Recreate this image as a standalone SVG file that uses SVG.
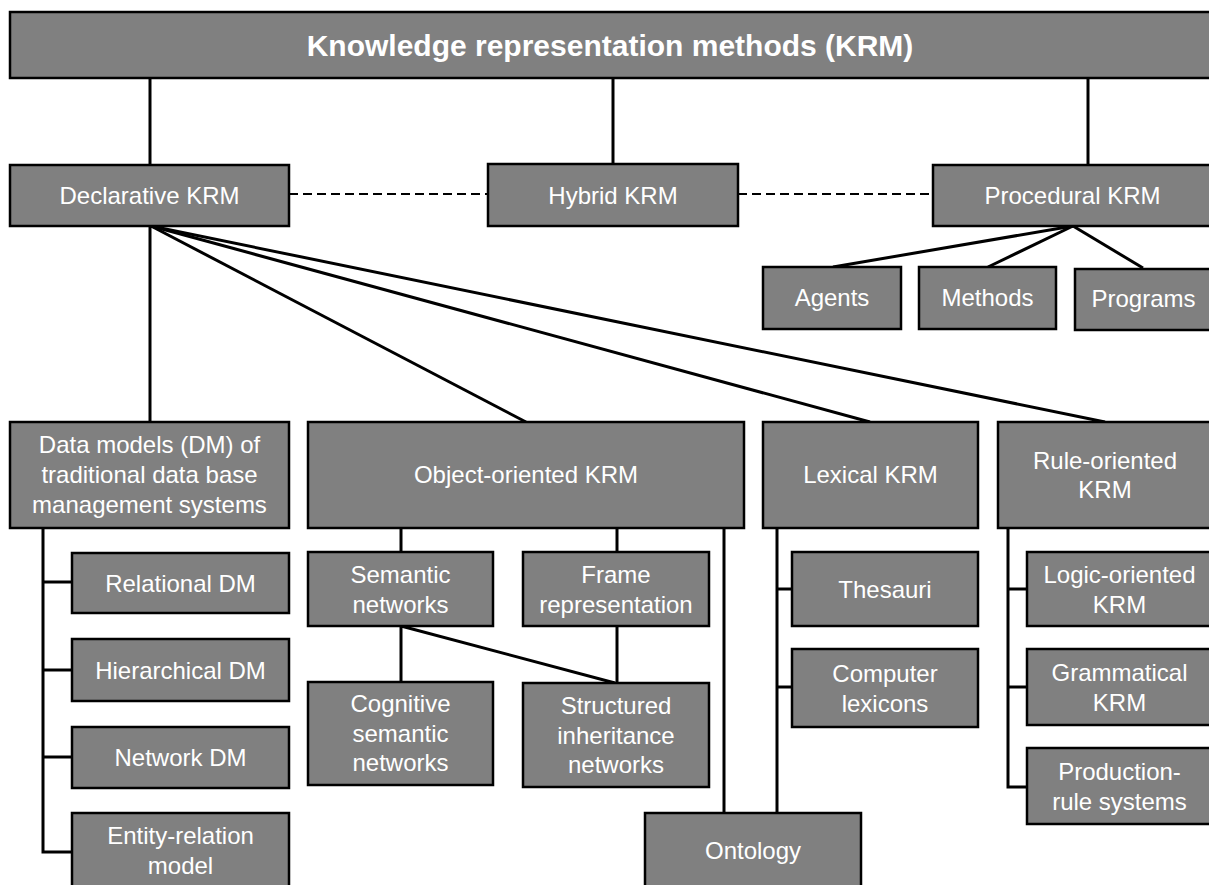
<svg xmlns="http://www.w3.org/2000/svg" width="1209" height="885" viewBox="0 0 1209 885">
  <style>
    .box { fill: #808080; stroke: #000; stroke-width: 2.5; }
    .lbl { font-family: "Liberation Sans", Arial, sans-serif; font-size: 24px; fill: #fff; text-anchor: middle; }
    .title { font-family: "Liberation Sans", Arial, sans-serif; font-size: 30px; font-weight: bold; fill: #fff; text-anchor: middle; }
    .link { stroke: #000; stroke-width: 3; fill: none; }
    .dash { stroke: #000; stroke-width: 2; fill: none; stroke-dasharray: 9 5; }
  </style>
  <rect width="1209" height="885" fill="#fff"/>

  <g id="connectors">
    <!-- root to the three main branches -->
    <line class="link" x1="150" y1="78" x2="150" y2="165"/>
    <line class="link" x1="613" y1="78" x2="613" y2="164"/>
    <line class="link" x1="1088" y1="78" x2="1088" y2="165"/>
    <!-- hybrid relations -->
    <line class="dash" x1="289" y1="194" x2="488" y2="194"/>
    <line class="dash" x1="738" y1="194" x2="933" y2="194"/>
    <!-- procedural children -->
    <line class="link" x1="1073" y1="226" x2="833" y2="267"/>
    <line class="link" x1="1073" y1="226" x2="988" y2="267"/>
    <line class="link" x1="1073" y1="226" x2="1143" y2="268"/>
    <!-- declarative children -->
    <line class="link" x1="150" y1="226" x2="150" y2="422"/>
    <line class="link" x1="151" y1="226" x2="526" y2="422"/>
    <line class="link" x1="151" y1="226" x2="870" y2="422"/>
    <line class="link" x1="151" y1="226" x2="1105" y2="422"/>
    <!-- data models tree -->
    <polyline class="link" points="43,528 43,852 72,852"/>
    <line class="link" x1="43" y1="582" x2="72" y2="582"/>
    <line class="link" x1="43" y1="670" x2="72" y2="670"/>
    <line class="link" x1="43" y1="757" x2="72" y2="757"/>
    <!-- object-oriented tree -->
    <line class="link" x1="401" y1="528" x2="401" y2="552"/>
    <line class="link" x1="617" y1="528" x2="617" y2="552"/>
    <line class="link" x1="401" y1="626" x2="401" y2="682"/>
    <line class="link" x1="617" y1="626" x2="617" y2="683"/>
    <line class="link" x1="401" y1="626" x2="615" y2="683"/>
    <line class="link" x1="724" y1="528" x2="724" y2="813"/>
    <!-- lexical tree -->
    <line class="link" x1="777" y1="528" x2="777" y2="813"/>
    <line class="link" x1="777" y1="589" x2="792" y2="589"/>
    <line class="link" x1="777" y1="687" x2="792" y2="687"/>
    <!-- rule-oriented tree -->
    <polyline class="link" points="1008,528 1008,787 1027,787"/>
    <line class="link" x1="1008" y1="589" x2="1027" y2="589"/>
    <line class="link" x1="1008" y1="687" x2="1027" y2="687"/>
  </g>

  <g id="krm">
    <rect class="box" x="10" y="12" width="1202" height="66"/>
    <text class="title" x="610" y="56">Knowledge representation methods (KRM)</text>
  </g>

  <g id="declarative">
    <rect class="box" x="10" y="165" width="279" height="61"/>
    <text class="lbl" x="149.5" y="204">Declarative KRM</text>
  </g>
  <g id="hybrid">
    <rect class="box" x="488" y="164" width="250" height="62"/>
    <text class="lbl" x="613" y="204">Hybrid KRM</text>
  </g>
  <g id="procedural">
    <rect class="box" x="933" y="165" width="279" height="61"/>
    <text class="lbl" x="1072.5" y="204">Procedural KRM</text>
  </g>

  <g id="agents">
    <rect class="box" x="763" y="267" width="138" height="62"/>
    <text class="lbl" x="832" y="306">Agents</text>
  </g>
  <g id="methods">
    <rect class="box" x="919" y="267" width="137" height="62"/>
    <text class="lbl" x="987.5" y="306">Methods</text>
  </g>
  <g id="programs">
    <rect class="box" x="1075" y="269" width="137" height="61"/>
    <text class="lbl" x="1143.5" y="307">Programs</text>
  </g>

  <g id="data-models">
    <rect class="box" x="10" y="422" width="279" height="106"/>
    <text class="lbl" x="149.5" y="453">Data models (DM) of</text>
    <text class="lbl" x="149.5" y="483">traditional data base</text>
    <text class="lbl" x="149.5" y="513">management systems</text>
  </g>
  <g id="relational">
    <rect class="box" x="72" y="553" width="217" height="60"/>
    <text class="lbl" x="180.5" y="591.5">Relational DM</text>
  </g>
  <g id="hierarchical">
    <rect class="box" x="72" y="639" width="217" height="62"/>
    <text class="lbl" x="180.5" y="678.5">Hierarchical DM</text>
  </g>
  <g id="network">
    <rect class="box" x="72" y="727" width="217" height="61"/>
    <text class="lbl" x="180.5" y="766">Network DM</text>
  </g>
  <g id="entity-relation">
    <rect class="box" x="72" y="813" width="217" height="85"/>
    <text class="lbl" x="180.5" y="844">Entity-relation</text>
    <text class="lbl" x="180.5" y="874">model</text>
  </g>

  <g id="object-oriented">
    <rect class="box" x="308" y="422" width="436" height="106"/>
    <text class="lbl" x="526" y="483">Object-oriented KRM</text>
  </g>
  <g id="semantic-networks">
    <rect class="box" x="308" y="552" width="185" height="74"/>
    <text class="lbl" x="400.5" y="583">Semantic</text>
    <text class="lbl" x="400.5" y="612.5">networks</text>
  </g>
  <g id="frame-representation">
    <rect class="box" x="523" y="552" width="186" height="74"/>
    <text class="lbl" x="616" y="583">Frame</text>
    <text class="lbl" x="616" y="612.5">representation</text>
  </g>
  <g id="cognitive-semantic-networks">
    <rect class="box" x="308" y="682" width="185" height="103"/>
    <text class="lbl" x="400.5" y="712">Cognitive</text>
    <text class="lbl" x="400.5" y="742">semantic</text>
    <text class="lbl" x="400.5" y="771">networks</text>
  </g>
  <g id="structured-inheritance-networks">
    <rect class="box" x="523" y="683" width="186" height="104"/>
    <text class="lbl" x="616" y="714">Structured</text>
    <text class="lbl" x="616" y="743.5">inheritance</text>
    <text class="lbl" x="616" y="773">networks</text>
  </g>
  <g id="ontology">
    <rect class="box" x="645" y="813" width="216" height="85"/>
    <text class="lbl" x="753" y="859">Ontology</text>
  </g>

  <g id="lexical">
    <rect class="box" x="763" y="422" width="215" height="106"/>
    <text class="lbl" x="870.5" y="483">Lexical KRM</text>
  </g>
  <g id="thesauri">
    <rect class="box" x="792" y="552" width="186" height="74"/>
    <text class="lbl" x="885" y="597.5">Thesauri</text>
  </g>
  <g id="computer-lexicons">
    <rect class="box" x="792" y="649" width="186" height="78"/>
    <text class="lbl" x="885" y="682">Computer</text>
    <text class="lbl" x="885" y="711.5">lexicons</text>
  </g>

  <g id="rule-oriented">
    <rect class="box" x="998" y="422" width="214" height="106"/>
    <text class="lbl" x="1105" y="469">Rule-oriented</text>
    <text class="lbl" x="1105" y="498">KRM</text>
  </g>
  <g id="logic-oriented">
    <rect class="box" x="1027" y="552" width="185" height="74"/>
    <text class="lbl" x="1119.5" y="583">Logic-oriented</text>
    <text class="lbl" x="1119.5" y="612.5">KRM</text>
  </g>
  <g id="grammatical">
    <rect class="box" x="1027" y="649" width="185" height="76"/>
    <text class="lbl" x="1119.5" y="681">Grammatical</text>
    <text class="lbl" x="1119.5" y="710.5">KRM</text>
  </g>
  <g id="production-rule">
    <rect class="box" x="1027" y="748" width="185" height="76"/>
    <text class="lbl" x="1119.5" y="780">Production-</text>
    <text class="lbl" x="1119.5" y="809.5">rule systems</text>
  </g>
</svg>
